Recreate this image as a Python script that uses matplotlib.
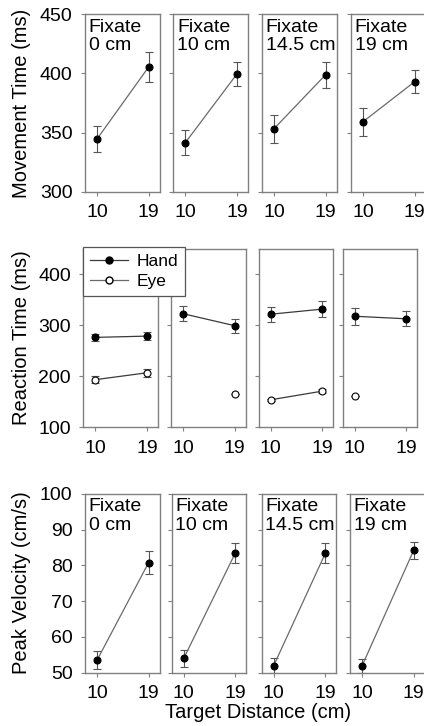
import numpy as np
import matplotlib
matplotlib.use("Agg")
import matplotlib.pyplot as plt
from matplotlib.lines import Line2D

plt.rcParams['font.family'] = ['Liberation Sans', 'DejaVu Sans']

# data
distances = [10, 19]
fixate_labels = ["0 cm", "10 cm", "14.5 cm", "19 cm"]

mt_mean = [[344.5, 405.3], [341.4, 399.4], [353.2, 398.8], [359.1, 392.9]]
mt_err = [[11.3, 12.5], [10.4, 10.3], [12.0, 10.8], [12.0, 9.9]]

rt_hand_mean = [[276.5, 279.0], [323.0, 299.5], [322.0, 332.0], [318.0, 313.0]]
rt_hand_err = [[7.5, 8.0], [15.0, 13.5], [15.0, 16.0], [16.5, 14.5]]
rt_eye_mean = [[193.5, 207.0], [np.nan, 166.0], [154.0, 171.0], [161.0, np.nan]]
rt_eye_err = [[7.0, 8.0], [0.0, 0.0], [2.0, 4.0], [0.0, 0.0]]

pv_mean = [[53.5, 80.8], [54.0, 83.5], [52.0, 83.4], [51.9, 84.2]]
pv_err = [[2.6, 3.2], [2.3, 2.7], [2.0, 2.8], [2.0, 2.4]]

mt_ticks = [300, 350, 400, 450]
rt_ticks = [100, 200, 300, 400]
pv_ticks = [50, 60, 70, 80, 90, 100]

W, H = 424, 726
fig = plt.figure(figsize=(W / 100, H / 100), dpi=100)

SPINE = '#808080'
ERR = '#555555'


def px_axes(left, top, bottom, width=74.5):
    return fig.add_axes([left / W, 1 - bottom / H, width / W, (bottom - top) / H])


def style(ax, ylim, ticks, first):
    ax.set_xlim(7.9, 20.9)
    ax.set_ylim(*ylim)
    ax.set_xticks(distances)
    ax.set_xticklabels([str(d) for d in distances])
    ax.set_yticks(ticks)
    if not first:
        ax.set_yticklabels([])
    for s in ax.spines.values():
        s.set_color(SPINE)
        s.set_linewidth(1.0)
    ax.tick_params(axis='both', direction='out', length=3, width=0.8,
                   color=SPINE, labelsize=14, pad=6)
    ax.tick_params(axis='y', pad=6)


def draw_series(ax, mean, err, face, line_color):
    ax.errorbar(distances, mean, yerr=err, fmt='none', ecolor=ERR,
                elinewidth=0.8, capsize=3, capthick=0.8, zorder=2)
    ax.plot(distances, mean, '-', color=line_color, lw=0.9, zorder=3)
    ax.plot(distances, mean, 'o', ms=5, mfc=face, mec='black',
            mew=0.8, zorder=4)


def fixate_note(ax, label):
    ax.text(0.05, 0.975, "Fixate\n" + label, transform=ax.transAxes,
            ha='left', va='top', fontsize=14, linespacing=1.12)


rows = [
    dict(lefts=[85, 173.3, 262, 351], top=14.1, bottom=191.7),
    dict(lefts=[83.3, 171, 258.7, 342.7], top=249, bottom=427.3),
    dict(lefts=[85, 171.7, 261.7, 350], top=494, bottom=672.7),
]

# Movement time
for i in range(4):
    r = rows[0]
    ax = px_axes(r['lefts'][i], r['top'], r['bottom'])
    style(ax, (300, 450), mt_ticks, i == 0)
    draw_series(ax, mt_mean[i], mt_err[i], 'black', '#6a6a6a')
    fixate_note(ax, fixate_labels[i])

# Reaction time
for i in range(4):
    r = rows[1]
    ax = px_axes(r['lefts'][i], r['top'], r['bottom'])
    style(ax, (100, 450), rt_ticks, i == 0)
    draw_series(ax, rt_eye_mean[i], rt_eye_err[i], 'white', '#3a3a3a')
    draw_series(ax, rt_hand_mean[i], rt_hand_err[i], 'black', '#3a3a3a')

handles = [
    Line2D([], [], color='#3a3a3a', lw=0.9, marker='o', ms=5, mfc='black', mec='black'),
    Line2D([], [], color='#6a6a6a', lw=0.9, marker='o', ms=5, mfc='white', mec='black'),
]
leg = fig.legend(handles, ["Hand", "Eye"], loc='upper left',
                 bbox_to_anchor=(83 / W, 1 - 247 / H), borderaxespad=0,
                 fontsize=12.5, handlelength=2.2, handletextpad=0.5,
                 borderpad=0.4, labelspacing=0.3, fancybox=False,
                 framealpha=1, edgecolor='#555555')
leg.get_frame().set_linewidth(0.9)

# Peak velocity
for i in range(4):
    r = rows[2]
    ax = px_axes(r['lefts'][i], r['top'], r['bottom'])
    style(ax, (50, 100), pv_ticks, i == 0)
    draw_series(ax, pv_mean[i], pv_err[i], 'black', '#6a6a6a')
    fixate_note(ax, fixate_labels[i])

fig.text(22 / W, 1 - 103 / H, "Movement Time (ms)", rotation=90,
         ha='center', va='center', fontsize=14.5)
fig.text(22 / W, 1 - 338 / H, "Reaction Time (ms)", rotation=90,
         ha='center', va='center', fontsize=14.5)
fig.text(22 / W, 1 - 583 / H, "Peak Velocity (cm/s)", rotation=90,
         ha='center', va='center', fontsize=14.5)
fig.text(258 / W, 1 - 713 / H, "Target Distance (cm)",
         ha='center', va='center', fontsize=14.5)

fig.savefig("out.png", dpi=100)
